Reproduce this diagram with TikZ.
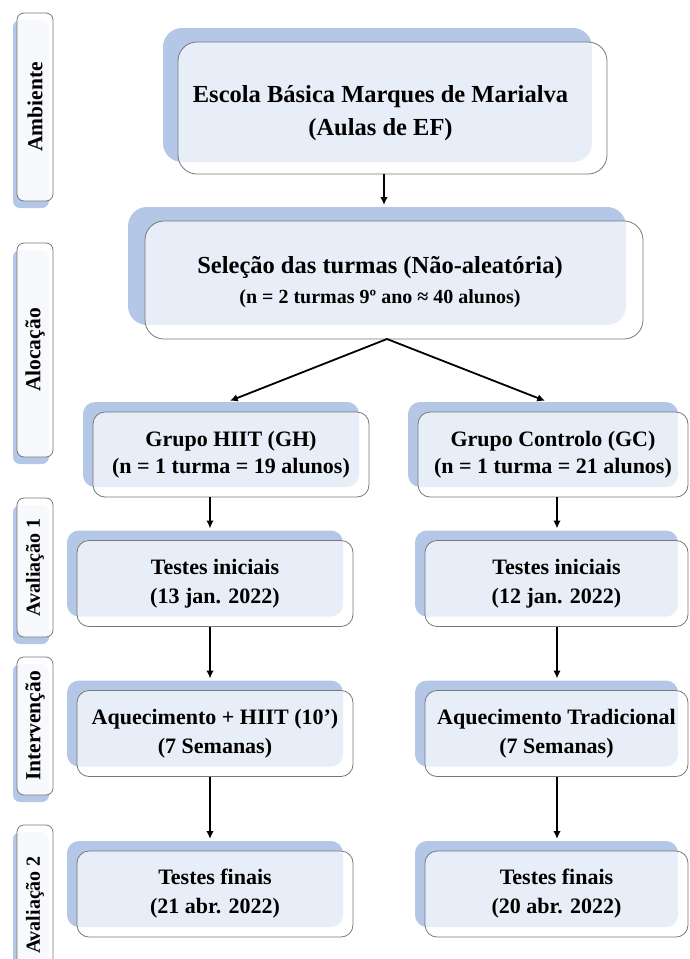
\documentclass[tikz,border=0pt]{standalone}
\usepackage{fontspec}
\setmainfont{Liberation Serif}
\usetikzlibrary{arrows.meta}
\definecolor{shadowc}{RGB}{180,199,231}
\definecolor{edgec}{RGB}{120,120,120}
\newcommand\fTop{\fontsize{24.5}{33}\selectfont\bfseries}
\newcommand\fSelSub{\fontsize{20}{26}\selectfont\bfseries}
\newcommand\fLow{\fontsize{22}{29}\selectfont\bfseries}
\newcommand\fLowSub{\fontsize{22}{27}\selectfont\bfseries}
\newcommand\fLbl{\fontsize{21.5}{26}\selectfont\bfseries}
\begin{document}
\begin{tikzpicture}[x=1pt,y=-1pt,
  base/.style={rectangle, inner sep=0pt, outer sep=0pt},
  shad/.style={base, fill=shadowc, draw=none},
  front/.style={base, draw=edgec, line width=0.8pt, fill=white, fill opacity=0.7, text opacity=1, align=center},
  rbig/.style={rounded corners=19pt},
  rsmall/.style={rounded corners=12pt},
  lblshad/.style={shad, rotate=90, rounded corners=7pt, minimum height=36pt},
  lbl/.style={front, rotate=90, rounded corners=7pt, minimum height=36pt, fill opacity=0.9, font=\fLbl},
  lowshad/.style={shad, rsmall, minimum height=86pt},
  low/.style={front, rsmall, minimum height=86pt, font=\fLow},
  arr/.style={-{Latex[length=8pt,width=7.5pt]}, line width=1.8pt, shorten >=2pt}
]
\clip (0,0) rectangle (689,959);

% ---------- left labels ----------
\node[lblshad, minimum width=188pt] (ambs) at (31,114) {};
\node[lbl, minimum width=188pt] (amb) at (35,107) {Ambiente};
\node[lblshad, minimum width=214pt] (alos) at (31,357) {};
\node[lbl, minimum width=214pt] (alo) at (35,350) {Alocação};
\node[lblshad, minimum width=139pt] (avas) at (31,574.5) {};
\node[lbl, minimum width=139pt, font=\fontsize{20}{24}\selectfont\bfseries] (ava) at (35,567.5) {Avaliação 1};
\node[lblshad, minimum width=138pt] (ints) at (31,733) {};
\node[lbl, minimum width=138pt] (int) at (35,726) {Intervenção};
\node[lblshad, minimum width=160pt] (avbs) at (31,912) {};
\node[lbl, minimum width=160pt, font=\fontsize{20}{24}\selectfont\bfseries] (avb) at (35,905) {Avaliação 2};

% ---------- top boxes ----------
\node[shad, rbig, minimum width=429pt, minimum height=134pt] (tops) at (377.5,95) {};
\node[front, rbig, minimum width=429pt, minimum height=132pt, font=\fTop] (top) at (392.5,108)
  {\hspace*{-24pt}\rule{0pt}{28pt}Escola Básica Marques de Marialva\\\hspace*{-24pt}(Aulas de EF)};

\node[shad, rbig, minimum width=498pt, minimum height=118pt] (sels) at (377,266) {};
\node[front, rbig, minimum width=498pt, minimum height=118pt, font=\fTop] (sel) at (394,280)
  {\hspace*{-28pt}\rule{0pt}{22pt}Seleção das turmas (Não-aleatória)\\[-3pt]\hspace*{-28pt}{\fSelSub (n = 2 turmas 9º ano ≈ 40 alunos)}};

% ---------- group boxes ----------
\node[lowshad, minimum width=276pt, minimum height=85pt] (ghs) at (221,444.5) {};
\node[low, minimum width=276pt, minimum height=85pt] (gh) at (231,454.5)
  {Grupo HIIT (GH)\\[-2pt]{\fLowSub (n = 1 turma = 19 alunos)}};
\node[lowshad, minimum width=270pt, minimum height=85pt] (gcs) at (543,444.5) {};
\node[low, minimum width=270pt, minimum height=85pt] (gc) at (553,454.5)
  {Grupo Controlo (GC)\\[-2pt]{\fLowSub (n = 1 turma = 21 alunos)}};

% ---------- left column ----------
\node[lowshad, minimum width=276pt] (tias) at (205,573.5) {};
\node[low, minimum width=276pt] (tia) at (215,583.5) {Testes iniciais\\(13 jan. 2022)};
\node[lowshad, minimum width=276pt] (aqas) at (205,723.5) {};
\node[low, minimum width=276pt] (aqa) at (215,733.5) {Aquecimento + HIIT (10’)\\(7 Semanas)};
\node[lowshad, minimum width=276pt] (tfas) at (205,884) {};
\node[low, minimum width=276pt] (tfa) at (215,894) {Testes finais\\(21 abr. 2022)};

% ---------- right column ----------
\node[lowshad, minimum width=263pt] (tibs) at (546.5,573.5) {};
\node[low, minimum width=263pt] (tib) at (556.5,583.5) {Testes iniciais\\(12 jan. 2022)};
\node[lowshad, minimum width=263pt] (aqbs) at (546.5,723.5) {};
\node[low, minimum width=263pt] (aqb) at (556.5,733.5) {Aquecimento Tradicional\\(7 Semanas)};
\node[lowshad, minimum width=263pt] (tfbs) at (546.5,884) {};
\node[low, minimum width=263pt] (tfb) at (556.5,894) {Testes finais\\(20 abr. 2022)};

% ---------- connectors ----------
\coordinate (cxm) at (384,0);
\coordinate (cxa) at (387,0);
\coordinate (cdl) at (227,0);
\coordinate (cdr) at (548,0);
\coordinate (cxl) at (210,0);
\coordinate (cxr) at (557,0);

\draw[arr] (top.south -| cxm) -- (sels.north -| cxm);
\draw[arr, shorten >=3pt] (sel.south -| cxa) -- (ghs.north -| cdl);
\draw[arr, shorten >=3pt] (sel.south -| cxa) -- (gcs.north -| cdr);

\draw[arr] (gh.south -| cxl) -- (tias.north -| cxl);
\draw[arr] (tia.south -| cxl) -- (aqas.north -| cxl);
\draw[arr] (aqa.south -| cxl) -- (tfas.north -| cxl);

\draw[arr] (gc.south -| cxr) -- (tibs.north -| cxr);
\draw[arr] (tib.south -| cxr) -- (aqbs.north -| cxr);
\draw[arr] (aqb.south -| cxr) -- (tfbs.north -| cxr);
\end{tikzpicture}
\end{document}
